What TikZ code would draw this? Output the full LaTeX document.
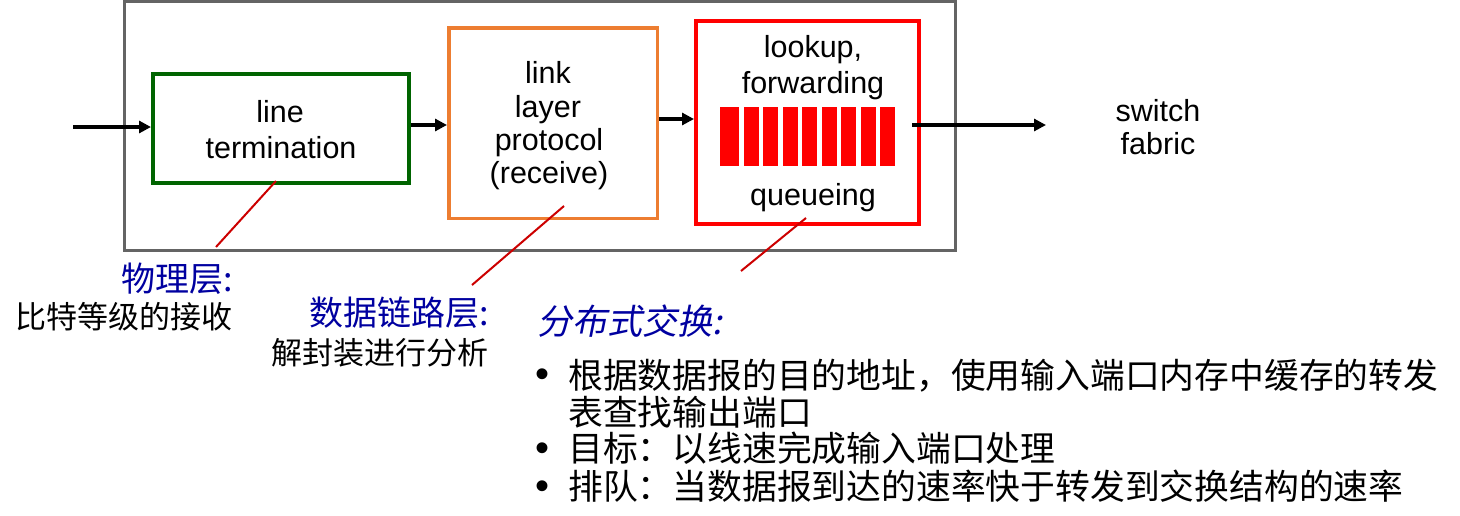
\documentclass[tikz,border=0pt]{standalone}
\usepackage{fontspec}
\setmainfont{Liberation Sans}
\newfontfamily\cjk{Noto Sans CJK SC}
\newfontfamily\cjkit[FakeSlant=0.2]{Noto Sans CJK SC}
\usetikzlibrary{arrows.meta}
\definecolor{boxgray}{RGB}{100,100,100}
\definecolor{boxgreen}{RGB}{0,100,0}
\definecolor{boxorange}{RGB}{237,125,49}
\definecolor{boxred}{RGB}{255,0,0}
\definecolor{labelblue}{RGB}{0,0,160}
\definecolor{pointerred}{RGB}{204,0,0}
\begin{document}
\begin{tikzpicture}[x=1pt,y=-1pt,
  blockbox/.style={draw, inner sep=0, fill=none},
  entext/.style={font=\fontsize{30.5}{36}\selectfont, inner sep=0, anchor=base},
  arr/.style={line width=3.5pt, -{Triangle[length=12pt,width=12pt]}},
  pointer/.style={draw=pointerred, line width=2pt},
  bluelabel/.style={font=\fontsize{34}{38}\cjk\selectfont, text=labelblue, inner sep=0, anchor=base east},
  sublabel/.style={font=\fontsize{31}{36}\cjk\selectfont, inner sep=0, anchor=base east},
  bullettext/.style={font=\fontsize{34.8}{38}\cjk\selectfont, inner sep=0, anchor=base west},
  bulletdot/.style={font=\fontsize{40}{40}\selectfont, inner sep=0, anchor=base west},
  qbar/.style={fill=boxred, draw=none}
]
\useasboundingbox (0,0) rectangle (1460,515);

% boxes
\node[blockbox, draw=boxgray, line width=3pt, minimum width=831pt, minimum height=249pt] (outer) at (540,126) {};
\node[blockbox, draw=boxgreen, line width=4pt, minimum width=256pt, minimum height=109pt] (green) at (281,128.5) {};
\node[blockbox, draw=boxorange, line width=3.5pt, minimum width=208.5pt, minimum height=190.5pt] (orange) at (553,123) {};
\node[blockbox, draw=boxred, line width=4pt, minimum width=223pt, minimum height=203pt] (red) at (807.5,122.5) {};

% queue bars
\fill[qbar] (720,107) rectangle (739,166);
\foreach \i in {0,...,7} {
  \fill[qbar] ({744+\i*19.43},107) rectangle ({759+\i*19.43},166);
}
\node[inner sep=0, minimum width=176pt, minimum height=59pt] (bars) at (808,136.5) {};

% texts in boxes
\node[entext] (t1) at (280,122) {line};
\node[entext] (t2) at (281,158) {termination};
\node[entext] (o1) at (548,83) {link};
\node[entext] (o2) at (548,117) {layer};
\node[entext] (o3) at (549,150) {protocol};
\node[entext] (o4) at (549,183) {(receive)};
\node[entext] (r1) at (813,57) {lookup,};
\node[entext] (r2) at (813,93) {forwarding};
\node[entext] (r3) at (813,205) {queueing};
\node[entext] (s1) at (1158,121) {switch};
\node[entext] (s2) at (1158,154) {fabric};

% arrows
\coordinate (inport) at (73,127);
\coordinate (qout) at (912,125);
\coordinate (fabin) at (1046,125);
\draw[arr] (inport) -- (inport -| green.west);
\draw[arr] ([yshift=3.5pt]green.east) -- ([yshift=3.5pt]green.east -| orange.west);
\draw[arr] ([yshift=4pt]orange.east) -- ([yshift=4pt]orange.east -| red.west);
\draw[arr] (qout) -- (fabin);

% pointers
\coordinate (p1a) at (276,181);
\coordinate (p1b) at (216,247);
\coordinate (p2a) at (564,206);
\coordinate (p2b) at (472,285);
\coordinate (p3a) at (806,218);
\coordinate (p3b) at (741,271);
\draw[pointer] (p1a) -- (p1b);
\draw[pointer] (p2a) -- (p2b);
\draw[pointer] (p3a) -- (p3b);

% labels
\node[bluelabel] (l1) at (233,291) {物理层:};
\node[sublabel] (l1b) at (233,328) {比特等级的接收};
\node[bluelabel] (l2) at (489,325) {数据链路层:};
\node[sublabel] (l2b) at (489,364.5) {解封装进行分析};
\node[font=\fontsize{35}{38}\cjkit\selectfont, text=labelblue, inner sep=0, anchor=base west] (l3) at (537,334) {分布式交换:};

% bullets
\node[bulletdot] (b1) at (535,387) {•};
\node[bullettext] (bt1) at (568,388) {根据数据报的目的地址，使用输入端口内存中缓存的转发};
\node[bullettext] (bt1b) at (568,425) {表查找输出端口};
\node[bulletdot] (b2) at (535,461) {•};
\node[bullettext] (bt2) at (568,461) {目标：以线速完成输入端口处理};
\node[bulletdot] (b3) at (535,499) {•};
\node[bullettext] (bt3) at (568,499) {排队：当数据报到达的速率快于转发到交换结构的速率};
\end{tikzpicture}
\end{document}
